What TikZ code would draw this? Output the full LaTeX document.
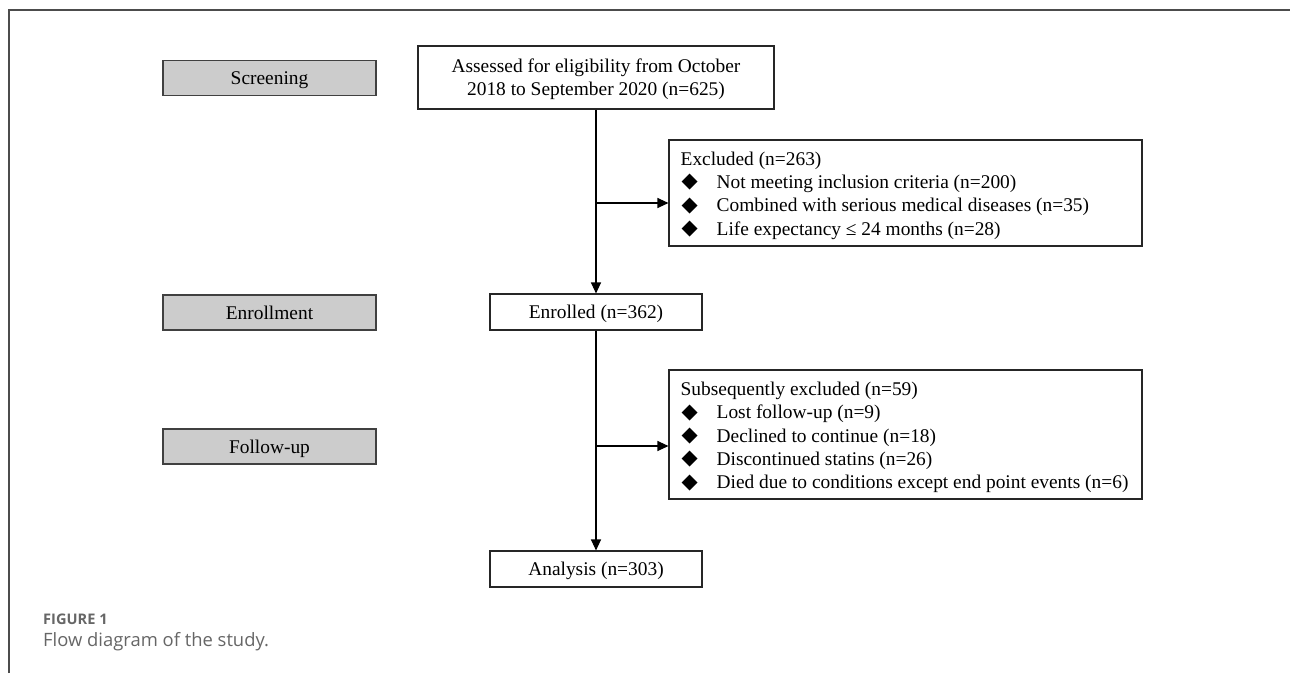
\documentclass[tikz,border=0pt]{standalone}
\usepackage{fontspec}
\setmainfont{Liberation Serif}
\setsansfont{Open Sans}
\newfontfamily\symfont{DejaVu Sans}
\usetikzlibrary{arrows.meta}

\newcommand{\bul}{\makebox[36pt][l]{\hspace{1pt}\raisebox{0.5pt}{\symfont\fontsize{21}{21}\selectfont ◆}}}
\newcommand{\boxfont}{\fontsize{19.4}{23.3}\selectfont}

\begin{document}
\begin{tikzpicture}[x=1pt,y=-1pt,
    stage/.style={draw=black!75,fill=black!20,line width=1.1pt,minimum width=213pt,minimum height=35pt,inner sep=0pt,text depth=0pt,font=\boxfont},
    box/.style={draw=black!85,line width=1.1pt,inner sep=0pt,text depth=0pt,font=\boxfont},
    listtext/.style={anchor=west,inner sep=0pt,align=left,font=\boxfont},
    arrow/.style={line width=1.1pt,-{Triangle[length=11pt,width=10pt]}}]

    \useasboundingbox (0,0) rectangle (1290,673);

    %% frame
    \draw[black!70,line width=1.5pt] (9,673) -- (9,10) -- (1290,10);

    %% stages
    \node[stage] (screen) at (269.5,78) {Screening};
    \node[stage] (enrolment) at (269.5,312.5) {Enrollment};
    \node[stage] (follow) at (269.5,446.5) {Follow-up};

    %% main boxes
    \node[box,minimum width=356pt,minimum height=63pt,align=center] (assess) at (596,77.5)
        {Assessed for eligibility from October\\2018 to September 2020 (n=625)};
    \node[box,minimum width=212pt,minimum height=36pt] (enrol) at (596,312) {Enrolled (n=362)};
    \node[box,minimum width=212pt,minimum height=36pt] (analysis) at (596,569) {Analysis (n=303)};

    %% exclusions
    \node[box,minimum width=473pt,minimum height=106pt] (excl) at (905.5,193) {};
    \node[listtext] (excltext) at ([xshift=12pt,yshift=-2.5pt]excl.west)
        {Excluded (n=263)\\
         \bul Not meeting inclusion criteria (n=200)\\
         \bul Combined with serious medical diseases (n=35)\\
         \bul Life expectancy ≤ 24 months (n=28)};
    \node[box,minimum width=473pt,minimum height=129pt] (subexcl) at (905.5,434.5) {};
    \node[listtext] (subtext) at ([xshift=12pt,yshift=-3pt]subexcl.west)
        {Subsequently excluded (n=59)\\
         \bul Lost follow-up (n=9)\\
         \bul Declined to continue (n=18)\\
         \bul Discontinued statins (n=26)\\
         \bul Died due to conditions except end point events (n=6)};

    %% connectors
    \draw[arrow] (assess) -- (enrol);
    \coordinate (b1) at (596,203);
    \draw[arrow] (b1) -- (b1 -| excl.west);
    \draw[arrow] (enrol) -- (analysis);
    \coordinate (b2) at (596,446);
    \draw[arrow] (b2) -- (b2 -| subexcl.west);

    %% caption
    \node[anchor=west,inner sep=0pt,text=black!60,font=\sffamily\bfseries\fontsize{14.6}{16}\selectfont] (figno) at (43,619) {FIGURE 1};
    \node[anchor=west,inner sep=0pt,text=black!60,font=\sffamily\fontsize{18.4}{21}\selectfont] (caption) at (43,642) {Flow diagram of the study.};

\end{tikzpicture}
\end{document}
